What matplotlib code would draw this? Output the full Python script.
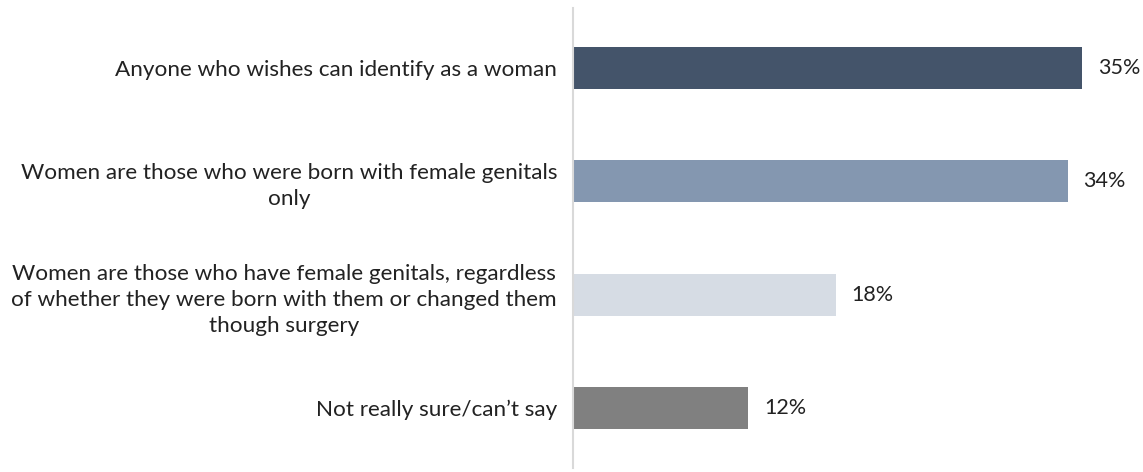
import matplotlib
matplotlib.use('Agg')
import matplotlib.pyplot as plt

plt.rcParams['font.family'] = ['Lato', 'DejaVu Sans']

categories = [
    'Anyone who wishes can identify as a woman',
    'Women are those who were born with female genitals\nonly',
    'Women are those who have female genitals, regardless\nof whether they were born with them or changed them\nthough surgery',
    'Not really sure/can\u2019t say',
]
values = [35, 34, 18, 12]
colors = ['#44546A', '#8497B0', '#D6DCE4', '#808080']

fig = plt.figure(figsize=(11.43, 4.72), dpi=100)
ax = fig.add_axes([573 / 1143, 4 / 472, 570 / 1143, 460 / 472])

pos = list(range(len(values)))
ax.barh(pos, values, height=0.37, color=colors, left=0.1)
ax.set_ylim(3.53, -0.53)
ax.set_xlim(0, 39.3)

for p, v in zip(pos, values):
    ax.text(v + 1.2, p, f'{v}%', va='center', ha='left', fontsize=15.5, color='#222222')

ax.set_yticks(pos)
ax.set_yticklabels(categories, fontsize=16.2, color='#222222',
                   multialignment='center', linespacing=1.38)
ax.tick_params(axis='y', length=0, pad=11.5)
ax.set_xticks([])
for s in ['top', 'right', 'bottom']:
    ax.spines[s].set_visible(False)
ax.spines['left'].set_color('#D9D9D9')
ax.spines['left'].set_linewidth(1.5)

fig.savefig('out.png', dpi=100)
